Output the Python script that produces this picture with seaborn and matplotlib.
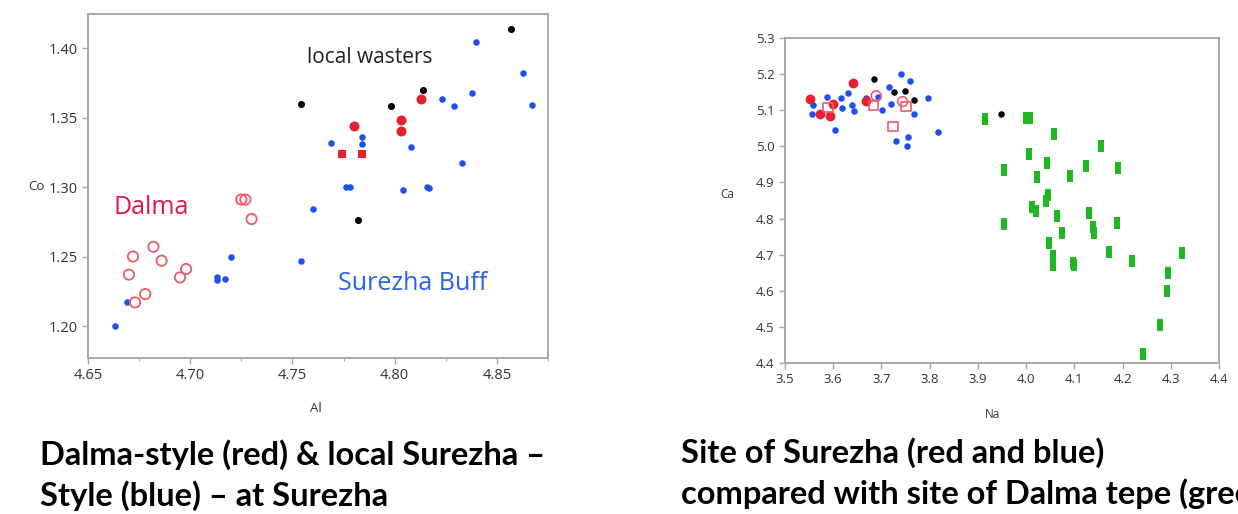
import numpy as np
import pandas as pd
import matplotlib
matplotlib.use("Agg")
import matplotlib.pyplot as plt
import seaborn as sns
from matplotlib.ticker import MultipleLocator
from matplotlib.path import Path

# ==========================
# Data - left panel (Al vs Co)
# ==========================

blue_al = [4.663, 4.669, 4.713, 4.713, 4.717, 4.720, 4.754, 4.760, 4.776, 4.778,
           4.804, 4.816, 4.817, 4.769, 4.784, 4.784, 4.808, 4.823, 4.829, 4.838,
           4.840, 4.863, 4.867, 4.833]
blue_co = [1.200, 1.217, 1.233, 1.235, 1.234, 1.250, 1.247, 1.284, 1.300, 1.300,
           1.298, 1.300, 1.299, 1.332, 1.336, 1.331, 1.329, 1.363, 1.358, 1.368,
           1.404, 1.382, 1.359, 1.317]

waster_al = [4.754, 4.798, 4.814, 4.857, 4.782]
waster_co = [1.360, 1.358, 1.370, 1.414, 1.276]

red_al = [4.780, 4.803, 4.803, 4.813]
red_co = [1.344, 1.348, 1.340, 1.363]
red_sq_al = [4.774, 4.784]
red_sq_co = [1.324, 1.324]

dalma_al = [4.672, 4.670, 4.673, 4.678, 4.682, 4.686, 4.695, 4.698, 4.725, 4.727, 4.730]
dalma_co = [1.250, 1.237, 1.217, 1.223, 1.257, 1.247, 1.235, 1.241, 1.291, 1.291, 1.277]

# ==========================
# Data - right panel (Na vs Ca)
# ==========================

s_blue_na = [3.559, 3.555, 3.588, 3.617, 3.631, 3.619, 3.638, 3.643, 3.603, 3.669,
             3.693, 3.701, 3.715, 3.720, 3.741, 3.760, 3.767, 3.796, 3.817, 3.731,
             3.755, 3.754]
s_blue_ca = [5.114, 5.089, 5.138, 5.133, 5.147, 5.105, 5.114, 5.098, 5.045, 5.133,
             5.138, 5.101, 5.165, 5.116, 5.199, 5.181, 5.089, 5.135, 5.040, 5.015,
             5.027, 5.002]

s_red_na = [3.552, 3.572, 3.593, 3.600, 3.641, 3.669]
s_red_ca = [5.131, 5.089, 5.085, 5.116, 5.175, 5.125]

s_ring_na = [3.689, 3.744]
s_ring_ca = [5.140, 5.124]

s_open_sq_na = [3.684, 3.724, 3.751, 3.589]
s_open_sq_ca = [5.113, 5.054, 5.110, 5.107]

s_black_na = [3.685, 3.727, 3.748, 3.767, 3.948]
s_black_ca = [5.186, 5.151, 5.153, 5.128, 5.089]

green_na = [3.915, 3.999, 4.008, 4.057, 4.156, 4.006, 4.043, 3.955, 4.022, 4.091,
            4.124, 4.191, 4.046, 4.042, 4.012, 4.021, 4.065, 4.130, 4.139, 4.140,
            4.188, 3.955, 4.075, 4.048, 4.056, 4.056, 4.098, 4.100, 4.171, 4.220,
            4.324, 4.295, 4.293, 4.278, 4.243]
green_ca = [5.075, 5.079, 5.079, 5.033, 5.002, 4.979, 4.955, 4.934, 4.914, 4.918,
            4.945, 4.941, 4.865, 4.849, 4.833, 4.821, 4.807, 4.816, 4.777, 4.761,
            4.788, 4.784, 4.761, 4.731, 4.696, 4.671, 4.678, 4.672, 4.708, 4.682,
            4.704, 4.648, 4.600, 4.505, 4.425]

# ==========================
# Style
# ==========================

sns.set_theme(style="white")
plt.rcParams["font.family"] = ["Open Sans", "DejaVu Sans"]

BLUE = "#1f4ff0"
RED = "#e8212e"
PINK = "#ee5a6a"
GREEN = "#1fb81f"
SPINE = "#a8a8a8"

fig = plt.figure(figsize=(12.38, 5.14), dpi=100)
ax1 = fig.add_axes([88 / 1238, 1 - 358 / 514, 460 / 1238, 344 / 514])
ax2 = fig.add_axes([785 / 1238, 1 - 363 / 514, 434 / 1238, 325 / 514])

# vertical bar marker for Dalma tepe samples
bar_marker = Path([(-0.46, -1), (0.46, -1), (0.46, 1), (-0.46, 1), (-0.46, -1)],
                  [1, 2, 2, 2, 79])

# ==========================
# Left panel
# ==========================

sns.scatterplot(x=blue_al, y=blue_co, ax=ax1, color=BLUE, s=22, linewidth=0)
sns.scatterplot(x=waster_al, y=waster_co, ax=ax1, color="black", s=26, linewidth=0)
sns.scatterplot(x=red_al, y=red_co, ax=ax1, color=RED, s=52, linewidth=0)
sns.scatterplot(x=red_sq_al, y=red_sq_co, ax=ax1, color=RED, s=40, marker="s", linewidth=0)
sns.scatterplot(x=dalma_al, y=dalma_co, ax=ax1, s=55, marker="o",
                facecolor="none", edgecolor=PINK, linewidth=1.3)

ax1.text(4.757, 1.3935, "local wasters", fontsize=15, color="#222222", va="center")
ax1.text(4.6625, 1.2855, "Dalma", fontsize=18, color="#e8154c", va="center")
ax1.text(4.7725, 1.2305, "Surezha Buff", fontsize=18, color="#2a62ea", va="center")

ax1.set_xlim(4.65, 4.875)
ax1.set_ylim(1.177, 1.4245)
ax1.xaxis.set_major_locator(MultipleLocator(0.05))
ax1.xaxis.set_minor_locator(MultipleLocator(0.025))
ax1.yaxis.set_major_locator(MultipleLocator(0.05))
ax1.xaxis.set_major_formatter(matplotlib.ticker.FormatStrFormatter("%.2f"))
ax1.yaxis.set_major_formatter(matplotlib.ticker.FormatStrFormatter("%.2f"))
ax1.set_xlabel("Al", fontsize=9.5, color="#333333")
ax1.set_ylabel("Co", fontsize=9.5, color="#333333", rotation=0)
ax1.xaxis.set_label_coords(0.496, -0.128)
ax1.yaxis.set_label_coords(-0.112, 0.48)

# ==========================
# Right panel
# ==========================

sns.scatterplot(x=s_blue_na, y=s_blue_ca, ax=ax2, color=BLUE, s=22, linewidth=0)
sns.scatterplot(x=s_black_na, y=s_black_ca, ax=ax2, color="black", s=22, linewidth=0)
sns.scatterplot(x=s_red_na, y=s_red_ca, ax=ax2, color=RED, s=50, linewidth=0)
sns.scatterplot(x=s_ring_na, y=s_ring_ca, ax=ax2, s=50, marker="o",
                facecolor="none", edgecolor=PINK, linewidth=1.2)
sns.scatterplot(x=s_open_sq_na, y=s_open_sq_ca, ax=ax2, s=45, marker="s",
                facecolor="none", edgecolor=PINK, linewidth=1.2)
sns.scatterplot(x=green_na, y=green_ca, ax=ax2, color=GREEN, s=72,
                marker=bar_marker, linewidth=0)

ax2.set_xlim(3.5, 4.4)
ax2.set_ylim(4.4, 5.3)
ax2.xaxis.set_major_locator(MultipleLocator(0.1))
ax2.yaxis.set_major_locator(MultipleLocator(0.1))
ax2.xaxis.set_major_formatter(matplotlib.ticker.FormatStrFormatter("%.1f"))
ax2.yaxis.set_major_formatter(matplotlib.ticker.FormatStrFormatter("%.1f"))
ax2.set_xlabel("Na", fontsize=8.5, color="#333333")
ax2.set_ylabel("Ca", fontsize=8.5, color="#333333", rotation=0)
ax2.xaxis.set_label_coords(0.479, -0.138)
ax2.yaxis.set_label_coords(-0.134, 0.50)

for ax, fs in [(ax1, 10.5), (ax2, 9.5)]:
    for sp in ax.spines.values():
        sp.set_color(SPINE)
        sp.set_linewidth(1.4)
    ax.tick_params(axis="both", which="major", direction="out", length=4,
                   width=1, color=SPINE, labelsize=fs, labelcolor="#333333",
                   bottom=True, left=True)
    ax.tick_params(axis="x", which="minor", direction="out", length=2.5,
                   width=0.8, color=SPINE, bottom=True)
    ax.set_facecolor("white")

# ==========================
# Captions
# ==========================

cap = dict(fontsize=23.5, fontweight="bold", color="black",
           family=["Lato", "DejaVu Sans"], va="center", ha="left")
fig.text(40 / 1238, 1 - 455 / 514, "Dalma-style (red) & local Surezha \u2013", **cap)
fig.text(40 / 1238, 1 - 496 / 514, "Style (blue) \u2013 at Surezha", **cap)
fig.text(681 / 1238, 1 - 453 / 514, "Site of Surezha (red and blue)", **cap)
fig.text(681 / 1238, 1 - 494 / 514, "compared with site of Dalma tepe (green)", **cap)

plt.savefig("out.png", dpi=100, facecolor="white")
